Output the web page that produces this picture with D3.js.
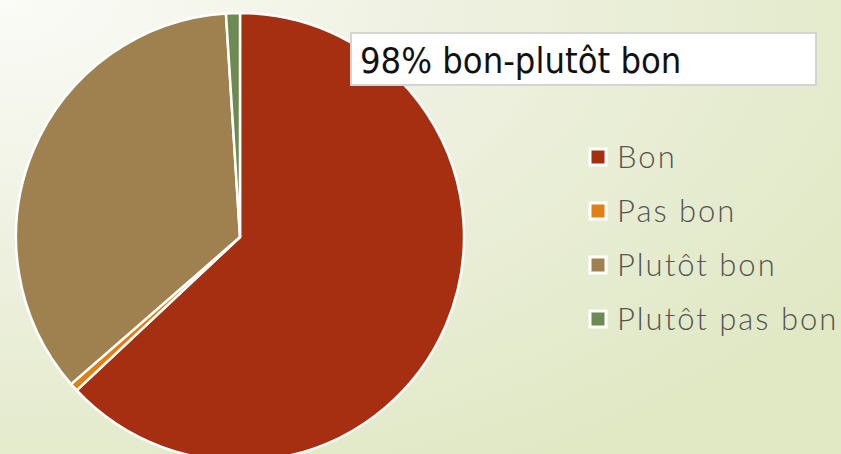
<!DOCTYPE html>
<html>
<head>
<meta charset="utf-8">
<script src="https://cdn.jsdelivr.net/npm/d3@7"></script>
<style>
  body { margin: 0; overflow: hidden; }
</style>
</head>
<body>
<div id="chart"></div>
<script>
var width = 841;
var height = 454;

// data
var categories = ["Bon", "Pas bon", "Plutôt bon", "Plutôt pas bon"];
var values = [63.0, 0.6, 35.4, 1.0];
var colors = ["#a52f10", "#df7f16", "#9f8150", "#6c8a52"];
var title = "98% bon-plutôt bon";

var svg = d3.select("#chart").append("svg")
    .attr("width", width)
    .attr("height", height);

// background gradient
var defs = svg.append("defs");
var grad = defs.append("radialGradient")
    .attr("id", "bg")
    .attr("cx", "0%").attr("cy", "0%").attr("r", "120%");
grad.append("stop").attr("offset", "0%").attr("stop-color", "#fbfbf7");
grad.append("stop").attr("offset", "45%").attr("stop-color", "#eef1e0");
grad.append("stop").attr("offset", "100%").attr("stop-color", "#e0e8c4");

svg.append("rect")
    .attr("width", width)
    .attr("height", height)
    .style("fill", "url(#bg)");

var cx = 240, cy = 237, radius = 224;

var pie = d3.pie().sort(null).value(function(d){ return d; });
var arc = d3.arc().innerRadius(0).outerRadius(radius);

svg.append("g")
    .attr("transform", "translate(" + cx + "," + cy + ")")
  .selectAll("path")
    .data(pie(values))
  .enter().append("path")
    .attr("d", arc)
    .style("fill", function(d, i){ return colors[i]; })
    .style("stroke", "#ffffff")
    .style("stroke-width", 2.5)
    .style("stroke-linejoin", "round");

// title box
var tb = svg.append("g");
tb.append("rect")
    .attr("x", 351).attr("y", 33)
    .attr("width", 465).attr("height", 52)
    .style("fill", "#ffffff")
    .style("stroke", "#d4d4d4")
    .style("stroke-width", 2);
tb.append("text")
    .attr("x", 360).attr("y", 73)
    .style("font-family", "'DejaVu Sans Condensed', 'DejaVu Sans', sans-serif")
    .style("font-size", "36px")
    .style("fill", "#111111")
    .text(title);

// legend
var legend = svg.append("g")
    .attr("transform", "translate(588,157)");

var item = legend.selectAll("g")
    .data(categories)
  .enter().append("g")
    .attr("transform", function(d, i){ return "translate(0," + (i * 54) + ")"; });

item.append("rect")
    .attr("x", 2).attr("y", -8)
    .attr("width", 16).attr("height", 16)
    .style("fill", function(d, i){ return colors[i]; })
    .style("stroke", "#ffffff")
    .style("stroke-width", 3);

item.append("text")
    .attr("x", 29).attr("y", 11)
    .style("font-family", "Lato, sans-serif")
    .style("font-weight", 300)
    .style("font-size", "31px")
    .style("letter-spacing", "2px")
    .style("fill", "#545454")
    .text(function(d){ return d; });
</script>
</body>
</html>
